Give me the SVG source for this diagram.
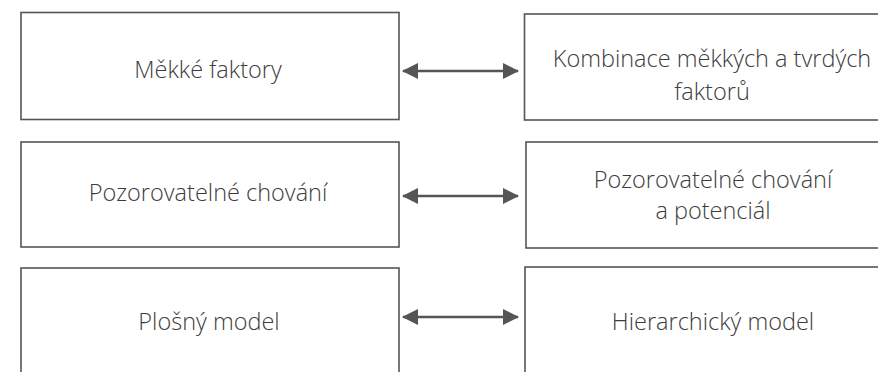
<svg xmlns="http://www.w3.org/2000/svg" width="878" height="372" viewBox="0 0 878 372">
<style>
.box{fill:#fff;stroke:#555;stroke-width:1.6}
.t{font-family:"Open Sans","Liberation Sans",sans-serif;font-weight:300;font-size:23.5px;fill:#3c3c3c;text-anchor:middle}
.c{stroke:#555;stroke-width:2.6;fill:none;marker-start:url(#ah);marker-end:url(#ah)}
</style>
<defs>
<marker id="ah" viewBox="0 0 16 16" refX="15" refY="8" markerWidth="16" markerHeight="16" markerUnits="userSpaceOnUse" orient="auto-start-reverse">
<path d="M0,0 L16,8 L0,16 Z" fill="#555"/>
</marker>
</defs>
<rect width="878" height="372" fill="#fff"/>
<g id="n1"><rect class="box" x="21" y="12.5" width="378" height="107"/><text class="t" x="208" y="78">Měkké faktory</text></g>
<g id="n2"><rect class="box" x="524.5" y="14" width="380" height="106"/><text class="t" x="712" y="67">Kombinace měkkých a tvrdých</text><text class="t" x="712" y="100">faktorů</text></g>
<g id="n3"><rect class="box" x="21" y="142" width="378" height="105"/><text class="t" x="208" y="201">Pozorovatelné chování</text></g>
<g id="n4"><rect class="box" x="526" y="142" width="380" height="106"/><text class="t" x="713" y="188">Pozorovatelné chování</text><text class="t" x="713" y="219">a potenciál</text></g>
<g id="n5"><rect class="box" x="21" y="268" width="378" height="120"/><text class="t" x="209" y="330">Plošný model</text></g>
<g id="n6"><rect class="box" x="525" y="267" width="380" height="120"/><text class="t" x="713" y="330">Hierarchický model</text></g>
<g id="connectors">
<path class="c" d="M403,71 H518"/>
<path class="c" d="M403,196 H518"/>
<path class="c" d="M403,317 H518"/>
</g>
</svg>
